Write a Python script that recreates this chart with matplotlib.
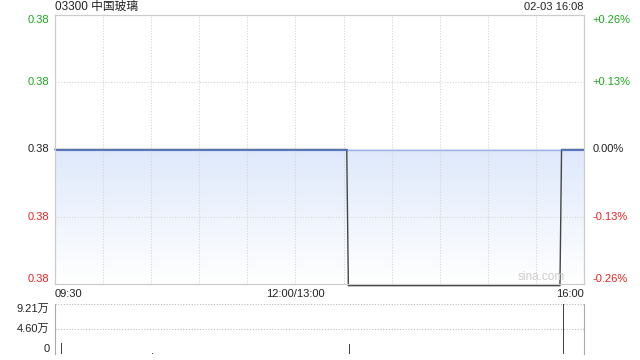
import matplotlib
matplotlib.use("Agg")
import matplotlib.pyplot as plt
import numpy as np
from matplotlib.colors import LinearSegmentedColormap

plt.rcParams['font.family'] = ['Liberation Sans', 'Noto Sans CJK SC', 'DejaVu Sans']

title = "03300 中国玻璃"
stamp = "02-03 16:08"
prevClose = 0.38
# minutes since 09:30 in trading time (lunch removed), step changes of the price
priceTimes = [0, 182, 183, 315, 316, 330]
priceValues = [0.38, 0.38, 0.379, 0.379, 0.38, 0.38]
volTimes = [4, 61, 184, 204, 317]
volValues = [20000, 1500, 18500, 1200, 92100]
leftLabels = ["0.38", "0.38", "0.38", "0.38", "0.38"]
rightLabels = ["-0.26%", "-0.13%", "0.00%", "+0.13%", "+0.26%"]
labelColors = ["#ee2222", "#ee2222", "#222222", "#1ba81b", "#1ba81b"]
xTickPos = [0, 150, 330]
xTickText = ["09:30", "12:00/13:00", "16:00"]
volTicks = [0, 46050, 92100]
volTickText = ["0", "4.60万", "9.21万"]

fig = plt.figure(figsize=(6.4, 3.6), dpi=100)
ax = fig.add_axes([55/640, 1-284/360, 529/640, 269/360])
axv = fig.add_axes([55/640, 1-354/360, 529/640, 50/360])

span = prevClose*0.0026
ymin, ymax = prevClose-span, prevClose+span
yTicks = [prevClose-span, prevClose-span/2, prevClose, prevClose+span/2, prevClose+span]

# gradient fill under the previous close
grad = np.linspace(0, 1, 100).reshape(-1, 1)
cmap = LinearSegmentedColormap.from_list("fill", ["#ffffff", "#dfe9fb"])
ax.imshow(grad, aspect='auto', cmap=cmap, origin='lower',
          extent=[0, 330, ymin, prevClose], zorder=1)

for xg in range(30, 330, 30):
    ax.axvline(xg, color='#d4d4d4', lw=0.8, ls=(0, (1, 1.5)), zorder=2)
for yg in [yTicks[1], yTicks[3]]:
    ax.axhline(yg, color='#d4d4d4', lw=0.8, ls=(0, (1, 1.5)), zorder=2)

ax.axhline(prevClose, color='#9db4e6', lw=1.0, zorder=3)
pt = np.array(priceTimes)
pv = np.array(priceValues)
ax.plot(pt, pv, color='#444444', lw=1.0, zorder=4, clip_on=False)
atClose = np.ma.masked_where(np.abs(pv-prevClose) > 1e-9, pv)
ax.plot(pt, atClose, color='#5577bb', lw=1.3, zorder=5)

ax.set_xlim(0, 330)
ax.set_ylim(ymin, ymax)
ax.set_yticks(yTicks)
ax.set_yticklabels(leftLabels)
ax.set_xticks([])
ax2 = ax.twinx()
ax2.set_ylim(ymin, ymax)
ax2.set_yticks(yTicks)
ax2.set_yticklabels(rightLabels)
vas = ['bottom', 'center', 'center', 'center', 'top']
for a, pad in ((ax, 4), (ax2, 6)):
    a.tick_params(axis='y', length=0, labelsize=8, pad=pad)
    for lab, c, va in zip(a.get_yticklabels(), labelColors, vas):
        lab.set_color(c)
        lab.set_verticalalignment(va)
    for s in a.spines.values():
        s.set_color('#cccccc')
        s.set_linewidth(0.8)

for xp, tx in zip(xTickPos, xTickText):
    ha = 'left' if xp == 0 else ('right' if xp == 330 else 'center')
    ax.text(xp, ymin - span*0.035, tx, ha=ha, va='top', fontsize=8, color='#222222',
            clip_on=False)

ax.text(330-12, ymin + span*0.01, "sina.com", ha='right', va='bottom',
        fontsize=8.5, color='#cccccc', zorder=6)
fig.text(55/640, 1-7/360, title, ha='left', va='center', fontsize=8.5, color='#222222')
fig.text(584/640, 1-7/360, stamp, ha='right', va='center', fontsize=8, color='#222222')

axv.bar(volTimes, volValues, width=0.6, color='#444444')
axv.set_xlim(0, 330)
axv.set_ylim(0, 92100)
axv.set_yticks(volTicks)
axv.set_yticklabels(volTickText)
axv.tick_params(axis='y', length=0, labelsize=8, pad=4, colors='#222222')
for lab, va in zip(axv.get_yticklabels(), ['bottom', 'center', 'top']):
    lab.set_verticalalignment(va)
axv.set_xticks([])
for yg in volTicks:
    axv.axhline(yg, color='#bbbbbb', lw=0.8, ls=(0, (1, 1.5)), zorder=0)
for k, s in axv.spines.items():
    s.set_color('#aaaaaa')
    s.set_linewidth(0.8)
axv.spines['top'].set_visible(False)
axv.spines['bottom'].set_visible(False)

fig.savefig("out.png", dpi=100)
